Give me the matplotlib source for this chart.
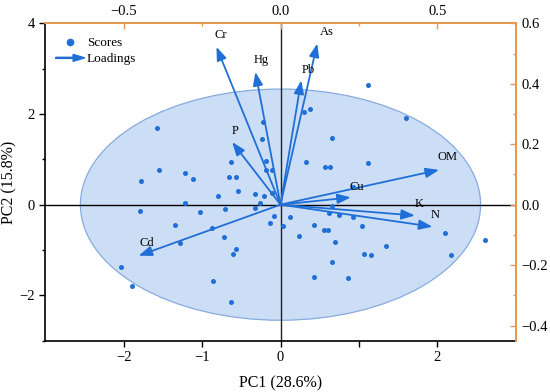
import matplotlib
matplotlib.use("Agg")
import matplotlib.pyplot as plt
import matplotlib.patches as mpatches
from matplotlib.lines import Line2D
from matplotlib.legend_handler import HandlerPatch

plt.rcParams["font.family"] = ["Liberation Serif", "DejaVu Serif"]

# PCA scores (PC1, PC2)
score_pc1 = [-1.575, -1.55, -1.78, -1.22, -1.12, -0.80, -1.22, -1.79, -1.02,
             -0.22, -0.23, -0.63, -0.18, -0.65, -0.57, -0.18, -0.11, -0.54,
             -0.32, -0.21, -0.11, -0.26, -0.33, -0.71, 0.30, 0.37, 0.65, 0.32,
             0.57, 0.63, 1.12, 1.60, 1.11, 0.92, -0.08, -0.14, -1.35, -0.87,
             -0.72, -1.28, -0.57, -0.60, -2.03, -1.89, -0.86, -0.63, 0.03, 0.12,
             0.23, 0.43, 0.56, 0.61, 0.62, 0.745, 0.65, 0.92, 0.69, 1.04, 1.34,
             1.06, 1.15, 0.66, 0.43, 0.86, 2.10, 2.17, 2.61]
score_pc2 = [1.68, 0.77, 0.53, 0.69, 0.57, 0.18, 0.04, -0.14, -0.16,
             1.82, 1.45, 0.95, 0.97, 0.62, 0.62, 0.77, 0.77, 0.30,
             0.24, 0.18, 0.26, 0.04, -0.07, -0.10, 2.04, 2.12, 1.47, 0.94,
             0.83, 0.84, 2.65, 1.92, 0.91, 0.38, -0.24, -0.41, -0.44, -0.51,
             -0.71, -0.85, -0.98, -1.09, -1.37, -1.79, -1.68, -2.15, -0.47, -0.28,
             -0.69, -0.44, -0.56, -0.56, -0.19, -0.22, -0.03, -0.27, -0.83, -0.46, -0.91,
             -1.08, -1.12, -1.26, -1.60, -1.61, -0.62, -1.12, -0.77]

# loadings (top / right axes)
variables = ["Cr", "Hg", "P", "As", "Pb", "OM", "Cu", "K", "N", "Cd"]
load_pc1 = [-0.204, -0.080, -0.154, 0.117, 0.066, 0.505, 0.224, 0.428, 0.484, -0.452]
load_pc2 = [0.522, 0.439, 0.207, 0.533, 0.411, 0.115, 0.024, -0.036, -0.073, -0.169]

# label offsets from arrow tips (points)
label_offsets = [(3, 4), (4, 4), (2, 4), (7, 4), (5, 3), (6, 5), (4, 3), (3, 4), (2, 4), (6, 5)]

blue = "#1f6fd6"
orange = "#e8974c"

fig = plt.figure(figsize=(5.5, 3.92), dpi=100)
rect = [0.082, 0.131, 0.856, 0.8095]
ax = fig.add_axes(rect)

# confidence ellipse
ell = mpatches.Ellipse((0, 0), 5.1, 5.1, facecolor="#cbdef6", edgecolor="#86abde",
                       lw=0.9, zorder=1)
ax.add_patch(ell)
ax.axhline(0, color="black", lw=1.0, zorder=2)
ax.axvline(0, color="#222222", lw=1.0, zorder=2)
ax.scatter(score_pc1, score_pc2, s=13, color=blue, zorder=4, linewidths=0)

ax.set_xlim(-3, 3)
ax.set_ylim(-3, 4)
ax.set_xticks([-2, -1, 0, 1, 2])
ax.set_xticklabels(["\u22122", "\u22121", "0", "", "2"])
ax.set_yticks([-2, 0, 2, 4])
ax.set_yticklabels(["\u22122", "0", "2", "4"])
ax.set_yticks([-3, -1, 1, 3], minor=True)
ax.tick_params(axis="both", which="major", direction="out", length=4, width=1,
               labelsize=10.5)
ax.tick_params(axis="y", which="minor", direction="out", length=2.5, width=1)
ax.spines["top"].set_visible(False)
ax.spines["right"].set_visible(False)
ax.spines["left"].set_linewidth(1.2)
ax.spines["bottom"].set_linewidth(1.2)
ax.set_xlabel("PC1 (28.6%)", fontsize=11.5, labelpad=8)
ax.set_ylabel("PC2 (15.8%)", fontsize=11.5, labelpad=1)

# loadings axes
ax2 = fig.add_axes(rect)
ax2.patch.set_visible(False)
ax2.set_xlim(-0.75, 0.75)
ax2.set_ylim(-0.45, 0.6)
ax2.xaxis.tick_top()
ax2.yaxis.tick_right()
ax2.set_xticks([-0.5, 0.0, 0.5])
ax2.set_xticklabels(["\u22120.5", "0.0", "0.5"])
ax2.set_xticks([-0.25, 0.25], minor=True)
ax2.set_yticks([-0.4, -0.2, 0.0, 0.2, 0.4, 0.6])
ax2.set_yticklabels(["\u22120.4", "\u22120.2", "0.0", "0.2", "0.4", "0.6"])
ax2.set_yticks([-0.3, -0.1, 0.1, 0.3, 0.5], minor=True)
ax2.tick_params(axis="both", which="major", direction="in", length=4, width=1,
                color=orange, labelsize=10.5, pad=4)
ax2.tick_params(axis="both", which="minor", direction="in", length=2.5, width=1,
                color=orange)
ax2.spines["left"].set_visible(False)
ax2.spines["bottom"].set_visible(False)
ax2.spines["top"].set_color(orange)
ax2.spines["right"].set_color(orange)
ax2.spines["top"].set_linewidth(1.4)
ax2.spines["right"].set_linewidth(1.4)

for name, lx, ly, off in zip(variables, load_pc1, load_pc2, label_offsets):
    ax2.annotate("", xy=(lx, ly), xytext=(0, 0),
                 arrowprops=dict(arrowstyle="-|>,head_length=0.8,head_width=0.3",
                                 color=blue, lw=1.3, mutation_scale=10,
                                 shrinkA=0, shrinkB=0))
    ax2.annotate(name, xy=(lx, ly), xytext=off, textcoords="offset points",
                 ha="center", va="bottom", fontsize=9)


def make_arrow(legend, orig_handle, xdescent, ydescent, width, height, fontsize):
    return mpatches.FancyArrow(-xdescent, height / 2 - ydescent, width, 0,
                               length_includes_head=True, width=height * 0.12,
                               head_width=height * 0.75, head_length=width * 0.4)


score_handle = Line2D([], [], marker="o", linestyle="none", color=blue,
                      markersize=4.5, label="Scores")
load_handle = mpatches.Patch(color=blue, label="Loadings")
ax.legend(handles=[score_handle, load_handle],
          handler_map={mpatches.Patch: HandlerPatch(patch_func=make_arrow)},
          loc="upper left", frameon=False, fontsize=9.5, handlelength=2.2,
          handletextpad=0.15, labelspacing=0.3, borderaxespad=0.4,
          bbox_to_anchor=(0.0, 0.99))

fig.savefig("out.png", dpi=100)
